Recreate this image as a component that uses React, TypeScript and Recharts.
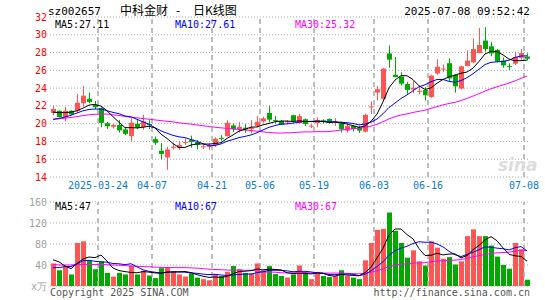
import React from 'react';
import {
  ComposedChart,
  Bar,
  Line,
  XAxis,
  YAxis,
  CartesianGrid,
  ReferenceLine,
  ReferenceArea,
  Cell,
} from 'recharts';

// ---- categories (trading days, 2025) ----
const dates = [
  '03-12', '03-13', '03-14', '03-17', '03-18', '03-19', '03-20', '03-21', '03-24', '03-25',
  '03-26', '03-27', '03-28', '03-31', '04-01', '04-02', '04-03', '04-07', '04-08', '04-09',
  '04-10', '04-11', '04-14', '04-15', '04-16', '04-17', '04-18', '04-21', '04-22', '04-23',
  '04-24', '04-25', '04-28', '04-29', '04-30', '05-06', '05-07', '05-08', '05-09', '05-12',
  '05-13', '05-14', '05-15', '05-16', '05-19', '05-20', '05-21', '05-22', '05-23', '05-26',
  '05-27', '05-28', '05-29', '05-30', '06-03', '06-04', '06-05', '06-06', '06-09', '06-10',
  '06-11', '06-12', '06-13', '06-16', '06-17', '06-18', '06-19', '06-20', '06-23', '06-24',
  '06-25', '06-26', '06-27', '06-30', '07-01', '07-02', '07-03', '07-04', '07-07', '07-08',
];

// ---- price series ----
const openP = [
  21.2, 21.45, 20.7, 21.45, 21.45, 22.3, 22.8, 22.1, 21.75, 20.05,
  19.65, 19.85, 19.35, 18.6, 20.0, 19.6, 19.95, 18.25, 16.95, 16.2,
  17.3, 17.25, 17.88, 18.2, 17.95, 17.35, 17.45, 17.6, 18.4, 18.6,
  19.8, 19.4, 19.55, 19.4, 19.75, 20.25, 21.2, 20.4, 20.3, 20.15,
  20.95, 20.05, 20.5, 19.72, 20.05, 20.38, 20.53, 20.15, 20.05, 19.22,
  19.75, 19.6, 19.1, 21.88, 23.5, 22.8, 27.9, 25.5, 25.3, 24.45,
  23.85, 23.6, 23.8, 23.0, 25.65, 26.1, 26.8, 25.5, 23.95, 26.5,
  26.9, 27.95, 29.35, 28.7, 28.3, 27.1, 26.5, 26.75, 27.4, 27.55,
];
const highP = [
  22.05, 21.5, 21.9, 21.5, 23.35, 24.25, 23.5, 22.55, 21.85, 20.2,
  19.95, 20.4, 19.6, 20.6, 20.4, 21.0, 20.4, 18.55, 17.8, 17.4,
  17.85, 18.0, 18.35, 18.65, 18.15, 17.7, 17.8, 18.45, 18.7, 20.4,
  20.0, 20.2, 19.95, 20.4, 20.85, 20.8, 22.0, 20.85, 20.4, 20.4,
  21.0, 21.1, 20.6, 19.95, 20.72, 20.5, 20.6, 20.6, 20.23, 19.97,
  19.86, 19.75, 21.1, 22.49, 24.25, 26.25, 28.8, 27.5, 25.8, 24.7,
  24.8, 24.1, 24.1, 25.5, 27.25, 26.65, 27.35, 25.6, 26.5, 28.25,
  29.6, 30.75, 30.85, 29.2, 28.4, 27.45, 26.8, 28.1, 28.4, 27.9,
];
const lowP = [
  20.95, 20.7, 20.25, 20.95, 21.2, 21.9, 22.3, 21.65, 19.6, 19.4,
  19.45, 19.0, 18.7, 18.0, 19.4, 19.3, 19.4, 17.6, 16.0, 14.8,
  17.1, 17.05, 17.6, 17.3, 17.1, 17.15, 17.05, 17.4, 18.1, 18.55,
  19.05, 19.0, 18.95, 18.9, 19.6, 20.1, 20.15, 20.0, 19.85, 20.0,
  20.1, 20.0, 19.75, 19.5, 19.6, 20.0, 20.0, 19.75, 19.0, 19.0,
  19.1, 18.96, 19.0, 21.1, 22.6, 22.7, 26.3, 25.2, 24.3, 23.35,
  23.45, 23.3, 22.6, 22.9, 25.5, 25.8, 24.8, 23.5, 23.85, 26.45,
  26.8, 27.9, 28.1, 27.6, 26.9, 26.3, 26.05, 26.6, 27.2, 27.1,
];
const closeP = [
  21.65, 20.75, 21.45, 21.05, 22.35, 23.15, 22.45, 21.85, 20.1, 19.7,
  19.85, 19.25, 18.85, 20.1, 19.55, 20.25, 19.85, 17.85, 16.6, 17.1,
  17.4, 17.6, 17.95, 17.95, 17.65, 17.45, 17.5, 18.3, 18.33, 20.1,
  19.4, 19.65, 19.35, 19.55, 20.2, 20.6, 20.45, 20.3, 19.9, 20.25,
  20.3, 20.85, 19.97, 19.78, 20.42, 20.3, 20.12, 20.25, 19.37, 19.75,
  19.37, 19.22, 20.99, 21.95, 23.88, 26.2, 27.2, 25.25, 24.5, 23.8,
  24.05, 23.7, 23.2, 25.4, 26.4, 26.2, 25.1, 24.2, 26.45, 27.1,
  28.4, 28.85, 28.4, 27.9, 27.0, 26.55, 26.45, 27.5, 27.95, 27.3,
];
const ma5 = [
  21.3, 21.25, 21.25, 21.3, 21.45, 21.75, 22.09, 22.17, 21.98, 21.45,
  20.79, 20.15, 19.55, 19.55, 19.52, 19.6, 19.72, 19.52, 18.82, 18.33,
  17.76, 17.31, 17.33, 17.6, 17.71, 17.72, 17.7, 17.77, 17.85, 18.34,
  18.73, 19.16, 19.37, 19.61, 19.63, 19.87, 20.03, 20.22, 20.29, 20.3,
  20.24, 20.32, 20.25, 20.23, 20.26, 20.26, 20.12, 20.17, 20.09, 19.96,
  19.77, 19.59, 19.74, 20.26, 21.08, 22.45, 24.04, 24.9, 25.41, 25.39,
  24.96, 24.26, 23.85, 24.03, 24.55, 24.98, 25.26, 25.46, 25.67, 25.81,
  26.25, 27.0, 27.84, 28.13, 28.11, 27.74, 27.26, 27.08, 27.09, 27.15,
];
const ma10 = [
  20.5, 20.6, 20.75, 20.95, 21.2, 21.45, 21.6, 21.65, 21.65, 21.45,
  21.27, 21.12, 20.86, 20.77, 20.49, 20.2, 19.94, 19.54, 19.19, 18.93,
  18.68, 18.52, 18.43, 18.21, 18.02, 17.74, 17.51, 17.55, 17.72, 18.02,
  18.22, 18.43, 18.57, 18.73, 18.98, 19.3, 19.59, 19.79, 19.95, 19.97,
  20.06, 20.18, 20.24, 20.26, 20.28, 20.25, 20.22, 20.21, 20.16, 20.11,
  20.02, 19.86, 19.96, 20.17, 20.52, 21.11, 21.82, 22.32, 22.83, 23.24,
  23.7, 24.15, 24.37, 24.72, 24.97, 24.97, 24.76, 24.66, 24.85, 25.18,
  25.62, 26.13, 26.65, 26.9, 26.96, 27.0, 27.13, 27.46, 27.61, 27.63,
];
const ma30 = [
  20.45, 20.55, 20.62, 20.7, 20.8, 20.9, 21.0, 21.05, 21.08, 21.08,
  21.0, 20.92, 20.82, 20.72, 20.65, 20.58, 20.5, 20.42, 20.34, 20.27,
  20.2, 20.1, 20.02, 19.95, 19.85, 19.77, 19.68, 19.6, 19.53, 19.47,
  19.39, 19.35, 19.28, 19.23, 19.16, 19.08, 19.01, 18.96, 18.95, 18.97,
  18.99, 19.04, 19.08, 19.07, 19.1, 19.1, 19.11, 19.19, 19.28, 19.37,
  19.43, 19.49, 19.59, 19.72, 19.93, 20.22, 20.54, 20.78, 20.98, 21.1,
  21.26, 21.39, 21.52, 21.72, 21.92, 22.11, 22.27, 22.4, 22.61, 22.84,
  23.11, 23.38, 23.66, 23.93, 24.15, 24.36, 24.57, 24.81, 25.1, 25.35,
];

// ---- volume series (万手) ----
const vol = [
  43, 30, 38, 22, 82, 85, 49, 32, 47, 25,
  18, 25, 22, 39, 22, 29, 20, 15, 34, 36,
  28, 22, 18, 24, 16, 13, 11, 22, 19, 27,
  38, 32, 25, 24, 43, 30, 38, 23, 19, 16,
  22, 39, 25, 13, 26, 19, 17, 19, 30, 19,
  16, 13, 49, 82, 107, 109, 140, 105, 82, 54,
  68, 47, 39, 85, 73, 52, 55, 41, 47, 95,
  108, 95, 95, 77, 56, 40, 33, 82, 70, 12,
];
const vma5 = [
  50, 46, 38, 33, 43, 51.4, 55.2, 54, 59, 47.6,
  34.2, 29.4, 27.4, 25.8, 25.2, 27.4, 26.4, 25, 24, 26.8,
  26.6, 27, 27.6, 25.6, 21.6, 18.6, 16.4, 17.2, 16.2, 18.4,
  23.4, 27.6, 28.2, 29.2, 32.4, 30.8, 32, 31.6, 30.6, 25.2,
  23.6, 23.8, 24.2, 23, 25, 24.4, 20, 18.8, 22.2, 20.8,
  20.2, 19.4, 25.4, 35.8, 53.4, 72, 97.4, 108.6, 108.6, 98,
  89.8, 71.2, 58, 58.6, 62.4, 59.2, 60.8, 61.2, 53.6, 58,
  69.2, 77.2, 88, 94, 86.2, 72.6, 60.2, 57.6, 56.2, 47.4,
];
const vma10 = [
  35, 35, 37, 37, 42, 48, 49, 47, 46, 45.3,
  42.8, 42.3, 40.7, 42.4, 36.4, 30.8, 27.9, 26.2, 24.9, 26,
  27, 26.7, 26.3, 24.8, 24.2, 22.6, 21.7, 22.4, 20.9, 20,
  21, 22, 22.7, 22.7, 25.4, 27.1, 29.8, 29.9, 29.9, 28.8,
  27.2, 27.9, 27.9, 26.8, 25.1, 24, 21.9, 21.5, 22.6, 22.9,
  22.3, 19.7, 22.1, 29, 37.1, 46.1, 58.4, 67, 72.2, 75.7,
  80.9, 84.3, 83.3, 83.6, 80.2, 74.5, 66, 59.6, 56.1, 60.2,
  64.2, 69, 74.6, 73.8, 72.1, 70.9, 68.7, 72.8, 75.1, 66.8,
];
const vma30 = [
  41, 40, 40, 40, 41, 41, 41, 41, 41, 40.5,
  40, 39.5, 39, 38, 37.5, 37, 36.5, 36, 35.5, 35,
  35, 35, 35, 34.5, 34, 33, 32, 31.5, 31, 30.4,
  30.3, 30.3, 29.9, 30, 28.7, 26.8, 26.5, 26.2, 25.2, 24.9,
  25.1, 25.5, 25.6, 24.8, 24.9, 24.6, 24.5, 24.6, 24.5, 23.9,
  23.5, 23.2, 24.2, 26.2, 29.2, 32.4, 36.7, 39.5, 41.6, 42.5,
  43.5, 44, 44.4, 46.5, 47.5, 48.2, 48.8, 49.4, 50.3, 52.9,
  55.8, 57.7, 60, 62.1, 63.1, 63.8, 64.4, 66.5, 67.8, 67.6,
];

// ---- ticks / labels ----
const tickDates = ['03-24', '04-07', '04-21', '05-06', '05-19', '06-03', '06-16', '07-08'];
const tickLabels = ['2025-03-24', '04-07', '04-21', '05-06', '05-19', '06-03', '06-16', '07-08'];
const priceTicks = [14, 16, 18, 20, 22, 24, 26, 28, 30, 32];
const volTicks = [0, 40, 80, 120, 160];

const data = dates.map((d, i) => ({
  date: d,
  open: openP[i],
  high: highP[i],
  low: lowP[i],
  close: closeP[i],
  ma5: ma5[i],
  ma10: ma10[i],
  ma30: ma30[i],
  vol: vol[i],
  vma5: vma5[i],
  vma10: vma10[i],
  vma30: vma30[i],
}));

const UP = '#ff5555';
const DOWN = '#00a800';
const MONO = "'DejaVu Sans Mono', 'Liberation Mono', monospace";
const CJK = "'Noto Sans CJK SC', sans-serif";
const GRID = '#a8a8a8';
const BORDER = '#999999';

const Candle = (props: any) => {
  const { x, y, width, height, payload } = props;
  if (!payload || x == null || y == null) return null;
  const { open, close, high, low } = payload;
  const top = Math.min(y, y + height);
  const h = Math.abs(height);
  const range = high - low;
  const yOf = (v: number) => (range > 0 ? top + ((high - v) / range) * h : top);
  const up = close >= open;
  const color = up ? UP : DOWN;
  const cx = x + width / 2;
  const bTop = yOf(Math.max(open, close));
  const bBot = yOf(Math.min(open, close));
  return (
    <g>
      <line x1={cx} x2={cx} y1={top} y2={top + h} stroke={color} strokeWidth={1} />
      <rect x={x} y={bTop} width={width} height={Math.max(bBot - bTop, 1)} fill={color} />
    </g>
  );
};

const DateTick = (props: any) => {
  const { x, y, payload } = props;
  const off = payload && typeof payload.offset === 'number' ? payload.offset : 0;
  const idx = tickDates.indexOf(payload.value);
  return (
    <text
      x={x - off}
      y={y + 12}
      textAnchor="middle"
      fill="#0a7ccc"
      fontSize={10}
      fontFamily={MONO}
    >
      {idx >= 0 ? tickLabels[idx] : payload.value}
    </text>
  );
};

export default function App() {
  return (
    <div style={{ position: 'absolute', left: 0, top: 0, width: 545, height: 300, background: '#fff' }}>
      <div style={{ position: 'absolute', left: 0, top: 0 }}>
        <ComposedChart
          width={545}
          height={192}
          data={data}
          margin={{ top: 17, right: 15, left: 0, bottom: 0 }}
        >
          <CartesianGrid vertical={false} stroke={GRID} strokeDasharray="1 2" />
          <XAxis
            dataKey="date"
            ticks={tickDates}
            interval={0}
            height={15}
            tickLine={false}
            axisLine={false}
            tickSize={0}
            tickMargin={0}
            tick={<DateTick />}
          />
          <YAxis
            domain={[14, 32]}
            ticks={priceTicks}
            interval={0}
            width={50}
            tickLine={false}
            axisLine={false}
            tickSize={0}
            tickMargin={3}
            tick={{ fill: '#ff0000', fontSize: 10, fontFamily: MONO }}
          />
          {tickDates.map((d) => (
            <ReferenceLine
              key={d}
              x={d}
              position="start"
              stroke={GRID}
              strokeWidth={1.5}
              strokeDasharray="5 4"
            />
          ))}
          <ReferenceArea fill="none" fillOpacity={0} stroke={BORDER} strokeWidth={1.5} />
          <Bar
            dataKey={(d: any) => [d.low, d.high]}
            barSize={5}
            shape={<Candle />}
            isAnimationActive={false}
          />
          <Line dataKey="ma30" type="linear" stroke="#ff00ff" strokeWidth={1} dot={false} isAnimationActive={false} />
          <Line dataKey="ma10" type="linear" stroke="#0000ff" strokeWidth={1} dot={false} isAnimationActive={false} />
          <Line dataKey="ma5" type="linear" stroke="#000000" strokeWidth={1} dot={false} isAnimationActive={false} />
        </ComposedChart>
      </div>
      <div style={{ position: 'absolute', left: 0, top: 190 }}>
        <ComposedChart
          width={545}
          height={110}
          data={data}
          margin={{ top: 12, right: 15, left: 0, bottom: 14 }}
        >
          <CartesianGrid vertical={false} stroke={GRID} strokeDasharray="1 2" />
          <XAxis dataKey="date" hide />
          <YAxis
            domain={[0, 160]}
            ticks={volTicks}
            interval={0}
            width={50}
            tickLine={false}
            axisLine={false}
            tickSize={0}
            tickMargin={3}
            tickFormatter={(v: number) => (v === 0 ? 'x万' : String(v))}
            tick={{ fill: '#a0a0a0', fontSize: 10, fontFamily: MONO }}
          />
          {tickDates.map((d) => (
            <ReferenceLine
              key={d}
              x={d}
              position="start"
              stroke={GRID}
              strokeWidth={1.5}
              strokeDasharray="5 4"
            />
          ))}
          <ReferenceArea fill="none" fillOpacity={0} stroke={BORDER} strokeWidth={1.5} />
          <Bar dataKey="vol" barSize={5} isAnimationActive={false}>
            {data.map((c, i) => (
              <Cell key={i} fill={c.close >= c.open ? UP : DOWN} />
            ))}
          </Bar>
          <Line dataKey="vma30" type="linear" stroke="#ff00ff" strokeWidth={1} dot={false} isAnimationActive={false} />
          <Line dataKey="vma10" type="linear" stroke="#0000ff" strokeWidth={1} dot={false} isAnimationActive={false} />
          <Line dataKey="vma5" type="linear" stroke="#000000" strokeWidth={1} dot={false} isAnimationActive={false} />
        </ComposedChart>
      </div>
      <svg
        width={545}
        height={300}
        style={{ position: 'absolute', left: 0, top: 0, pointerEvents: 'none' }}
      >
        <text x={48} y={15} fontSize={11} fontFamily={MONO} fill="#000">sz002657</text>
        <text x={120} y={15} fontSize={12} fontFamily={CJK} fill="#000">中科金财</text>
        <text x={176} y={15} fontSize={12} fontFamily={CJK} fill="#000">-</text>
        <text x={193} y={15} fontSize={12} fontFamily={CJK} fill="#000">日K线图</text>
        <text x={530} y={15} fontSize={11} fontFamily={MONO} fill="#000" textAnchor="end">2025-07-08 09:52:42</text>
        <text x={55} y={28} fontSize={10} fontFamily={MONO} fill="#000">MA5:27.11</text>
        <text x={175} y={28} fontSize={10} fontFamily={MONO} fill="#0000ff">MA10:27.61</text>
        <text x={295} y={28} fontSize={10} fontFamily={MONO} fill="#ff00ff">MA30:25.32</text>
        <text x={55} y={210} fontSize={10} fontFamily={MONO} fill="#000">MA5:47</text>
        <text x={175} y={210} fontSize={10} fontFamily={MONO} fill="#0000ff">MA10:67</text>
        <text x={295} y={210} fontSize={10} fontFamily={MONO} fill="#ff00ff">MA30:67</text>
        <text x={498} y={171} fontSize={17} fontWeight="bold" fontStyle="italic" fontFamily="'DejaVu Sans', sans-serif" fill="#dcdcdc">sina</text>
        <text x={50} y={296} fontSize={10} fontFamily={MONO} fill="#555">Copyright 2025 SINA.COM</text>
        <text x={530} y={296} fontSize={10} fontFamily={MONO} fill="#555" textAnchor="end">http://finance.sina.com.cn</text>
      </svg>
    </div>
  );
}
